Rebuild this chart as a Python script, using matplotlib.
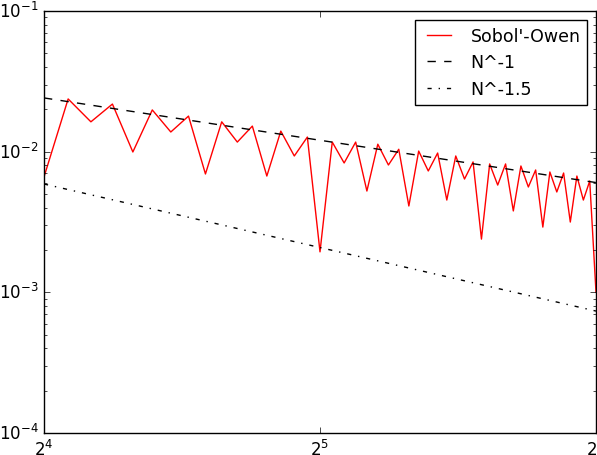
import matplotlib
matplotlib.use("Agg")
import matplotlib.pyplot as plt
import numpy as np

plt.style.use('classic')

# Sample sizes N (16..64)
n_values = list(range(16, 65))
# Sobol'-Owen error
sobol_owen = [
    0.00661, 0.0237, 0.0163, 0.0218, 0.00995, 0.0198, 0.0138, 0.0179,
    0.00694, 0.0163, 0.0117, 0.0152, 0.00671, 0.0140, 0.00932, 0.0127,
    0.00194, 0.0117, 0.00831, 0.0117, 0.00525, 0.0113, 0.00804, 0.0104,
    0.00411, 0.0101, 0.00729, 0.00978, 0.00453, 0.00932, 0.00639, 0.00845,
    0.00239, 0.00818, 0.00579, 0.00818, 0.00379, 0.00791, 0.00561, 0.00741,
    0.00291, 0.00717, 0.00517, 0.00705, 0.00316, 0.00671, 0.00453, 0.00619,
    0.00100,
]
# Reference slopes (endpoints)
ref_n = [16, 64]
ref_n1 = [0.0241, 0.00603]
ref_n15 = [0.00589, 0.000736]

labels = ["Sobol'-Owen", "N^-1", "N^-1.5"]

fig = plt.figure(figsize=(5.97, 4.56), dpi=100, facecolor='white')
ax = fig.add_axes([44/597, 22/456, 552/597, 422/456])

ax.plot(n_values, sobol_owen, color='red', lw=1.0, label=labels[0])
ax.plot(ref_n, ref_n1, color='black', ls='--', lw=1.0, label=labels[1])
ax.plot(ref_n, ref_n15, color='black', ls='-.', lw=1.0, label=labels[2])

ax.set_xscale('log', base=2)
ax.set_yscale('log')
ax.set_xlim(16, 64)
ax.set_ylim(1e-4, 1e-1)

ax.tick_params(labelsize=12)
leg = ax.legend(loc='upper right', fontsize=12.5, frameon=True, fancybox=False)
leg.get_frame().set_edgecolor('black')

fig.savefig('out.png', dpi=100, facecolor='white')
